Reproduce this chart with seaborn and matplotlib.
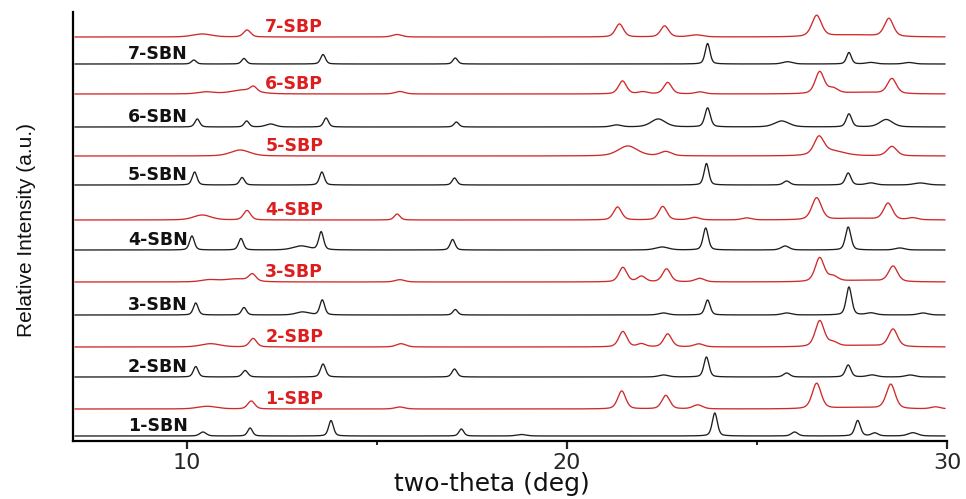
import numpy as np
import pandas as pd
import matplotlib
matplotlib.use("Agg")
import matplotlib.pyplot as plt
import seaborn as sns
from matplotlib import font_manager

# ---------------- data ----------------
# Peaks per pattern: (two-theta in deg, height in a.u., FWHM in deg)
sbn1 = [(10.42, 4, 0.2), (11.66, 8, 0.15), (13.79, 15.5, 0.15), (17.22, 7, 0.15), (18.8, 1.5, 0.3),
        (23.89, 23, 0.16), (25.99, 4, 0.2), (27.65, 15.5, 0.17), (28.1, 3, 0.2), (29.1, 3.3, 0.3)]
sbp1 = [(10.53, 2.7, 0.6), (11.69, 8, 0.22), (15.6, 2, 0.3), (21.44, 18, 0.25), (22.6, 13.5, 0.25),
        (23.44, 4, 0.3), (26.57, 25.5, 0.28), (27.6, 1.5, 1.2), (28.52, 24.5, 0.28), (29.7, 2, 0.3)]
sbn2 = [(10.23, 10.5, 0.15), (11.53, 6.5, 0.17), (13.58, 13, 0.16), (17.04, 8, 0.16), (22.54, 2, 0.3),
        (23.67, 20, 0.16), (25.78, 4, 0.2), (27.4, 12, 0.17), (28.03, 2, 0.3), (29.03, 2, 0.3)]
sbp2 = [(10.62, 3.3, 0.6), (11.74, 8.5, 0.22), (15.63, 3.3, 0.3), (21.47, 15.5, 0.25), (21.96, 3, 0.25),
        (22.65, 13, 0.25), (23.47, 3, 0.3), (26.65, 26, 0.28), (27.0, 4, 0.3), (27.8, 1.5, 1.2),
        (28.58, 17.5, 0.28)]
sbn3 = [(10.23, 12, 0.15), (11.5, 7.5, 0.15), (13.04, 3, 0.4), (13.56, 15, 0.15), (17.06, 5.5, 0.15),
        (22.54, 2, 0.3), (23.7, 15, 0.16), (25.78, 2, 0.3), (27.42, 28, 0.17), (28.0, 2, 0.3),
        (29.37, 2, 0.3)]
sbp3 = [(10.58, 2, 0.5), (11.3, 3, 0.8), (11.72, 7, 0.22), (15.6, 2.3, 0.3), (21.47, 14.5, 0.25),
        (21.96, 5.5, 0.25), (22.62, 13, 0.25), (23.49, 3.5, 0.3), (26.65, 24, 0.28), (27.0, 5, 0.3),
        (27.8, 1.5, 1.2), (28.58, 15.5, 0.28)]
sbn4 = [(10.13, 14, 0.15), (11.42, 11.5, 0.15), (13.0, 4, 0.5), (13.53, 18, 0.15), (16.99, 10.5, 0.15),
        (22.5, 3, 0.4), (23.65, 22, 0.16), (25.74, 4, 0.25), (27.4, 23, 0.17), (28.76, 2, 0.3)]
sbp4 = [(10.4, 5, 0.55), (11.58, 9.5, 0.22), (15.53, 6, 0.18), (21.33, 13, 0.25), (22.52, 13.5, 0.25),
        (23.36, 2.5, 0.3), (24.73, 2, 0.3), (26.57, 22, 0.3), (27.6, 1.5, 1.2), (28.45, 16.5, 0.28),
        (29.1, 2, 0.3)]
sbn5 = [(10.2, 13, 0.15), (11.45, 7.5, 0.15), (13.55, 13, 0.15), (17.04, 7, 0.15), (23.67, 21.5, 0.15),
        (25.78, 4, 0.2), (27.4, 12, 0.17), (28.0, 2, 0.3), (29.3, 2, 0.4)]
sbp5 = [(11.4, 6, 0.6), (21.6, 10, 0.6), (22.6, 4.3, 0.35), (26.63, 17, 0.3), (26.95, 5, 0.8),
        (28.55, 9.5, 0.3)]
sbn6 = [(10.27, 8, 0.15), (11.57, 6, 0.15), (12.2, 3, 0.3), (13.66, 9, 0.15), (17.09, 5, 0.15),
        (21.3, 2, 0.3), (22.4, 8, 0.45), (23.7, 19, 0.17), (25.65, 6, 0.45), (27.42, 13, 0.17),
        (28.4, 7.5, 0.4)]
sbp6 = [(10.5, 2, 0.5), (11.5, 4, 0.8), (11.75, 5, 0.2), (15.6, 2.5, 0.3), (21.46, 13, 0.25),
        (22.0, 2, 0.3), (22.65, 11.5, 0.25), (23.5, 2, 0.3), (26.65, 22, 0.28), (27.0, 5, 0.3),
        (27.8, 1.5, 1.2), (28.55, 15, 0.28)]
sbn7 = [(10.18, 4, 0.15), (11.5, 5.5, 0.15), (13.58, 9.5, 0.15), (17.06, 6, 0.15), (23.7, 20.5, 0.15),
        (25.8, 2.3, 0.3), (27.42, 11.5, 0.15), (28.0, 1.5, 0.3), (29.0, 1.5, 0.3)]
sbp7 = [(10.4, 3, 0.6), (11.58, 7, 0.22), (15.53, 2.5, 0.3), (21.38, 13, 0.25), (22.57, 11, 0.25),
        (23.4, 2, 0.4), (26.57, 21, 0.3), (27.5, 2, 1.5), (28.47, 18, 0.28)]

labels = ["1-SBN", "1-SBP", "2-SBN", "2-SBP", "3-SBN", "3-SBP", "4-SBN",
          "4-SBP", "5-SBN", "5-SBP", "6-SBN", "6-SBP", "7-SBN", "7-SBP"]
patterns = [sbn1, sbp1, sbn2, sbp2, sbn3, sbp3, sbn4, sbp4, sbn5, sbp5, sbn6, sbp6, sbn7, sbp7]
offsets = [5, 32, 64, 94, 126, 159, 191, 221, 256, 285, 314, 347, 377, 404]

x_ticks = [10, 20, 30]

# ---------------- build curves ----------------
tt = np.arange(7.05, 29.96, 0.01)


def profile(peaks):
    y = np.zeros_like(tt)
    for c, h, w in peaks:
        g = np.exp(-4 * np.log(2) * ((tt - c) / w) ** 2)
        l = 1.0 / (1.0 + 4 * ((tt - c) / w) ** 2)
        y += h * (0.6 * g + 0.4 * l)
    return y


rows = []
for lab, pk, off in zip(labels, patterns, offsets):
    rows.append(pd.DataFrame({"two_theta": tt, "intensity": profile(pk) + off, "sample": lab}))
df = pd.concat(rows, ignore_index=True)

# ---------------- plot ----------------
sns.set_style("ticks")
plt.rcParams["font.family"] = ["DejaVu Sans"]

W, H = 966, 499
fig = plt.figure(figsize=(W / 100, H / 100), dpi=100)
ax = fig.add_axes([73 / W, 58 / H, 874 / W, 429 / H])

RED_LINE = "#cf2a2a"
RED_TEXT = "#dc1e1e"
BLACK = "#1e1e1e"

for lab in labels:
    sub = df[df["sample"] == lab]
    col = RED_LINE if lab.endswith("SBP") else BLACK
    sns.lineplot(data=sub, x="two_theta", y="intensity", ax=ax, color=col,
                 linewidth=0.95, estimator=None, sort=False, legend=False)

for lab, off in zip(labels, offsets):
    if lab.endswith("SBN"):
        ax.text(10.02, off + 5, lab, ha="right", va="baseline", fontsize=12.5,
                fontweight="bold", color="#111111")
    else:
        ax.text(12.06, off + 5, lab, ha="left", va="baseline", fontsize=12.5,
                fontweight="bold", color=RED_TEXT)

ax.set_xlim(7, 30)
ax.set_ylim(0, 429)
ax.set_xticks(x_ticks)
ax.set_xticks([15, 25], minor=True)
ax.set_xticklabels([str(t) for t in x_ticks], fontsize=16)
ax.set_yticks([])
ax.set_xlabel("")
ax.set_ylabel("")
for s in ["top", "right"]:
    ax.spines[s].set_visible(False)
for s in ["left", "bottom"]:
    ax.spines[s].set_linewidth(1.6)
    ax.spines[s].set_color("black")
ax.tick_params(axis="x", which="major", direction="out", length=5.5, width=1.6, pad=3)
ax.tick_params(axis="x", which="minor", direction="out", length=3, width=1.4)

names = {f.name for f in font_manager.fontManager.ttflist}
if "Liberation Sans Narrow" in names:
    yfam, ysize = "Liberation Sans Narrow", 18
else:
    yfam, ysize = "Liberation Sans", 15
fig.text(27 / W, 1 - 230 / H, "Relative Intensity (a.u.)", rotation=90, ha="center",
         va="center", family=yfam, fontsize=ysize, color="#111111")
fig.text(492 / W, 1 - 491 / H, "two-theta (deg)", ha="center", va="baseline",
         fontsize=18, color="#111111")

fig.savefig("out.png", dpi=100)
